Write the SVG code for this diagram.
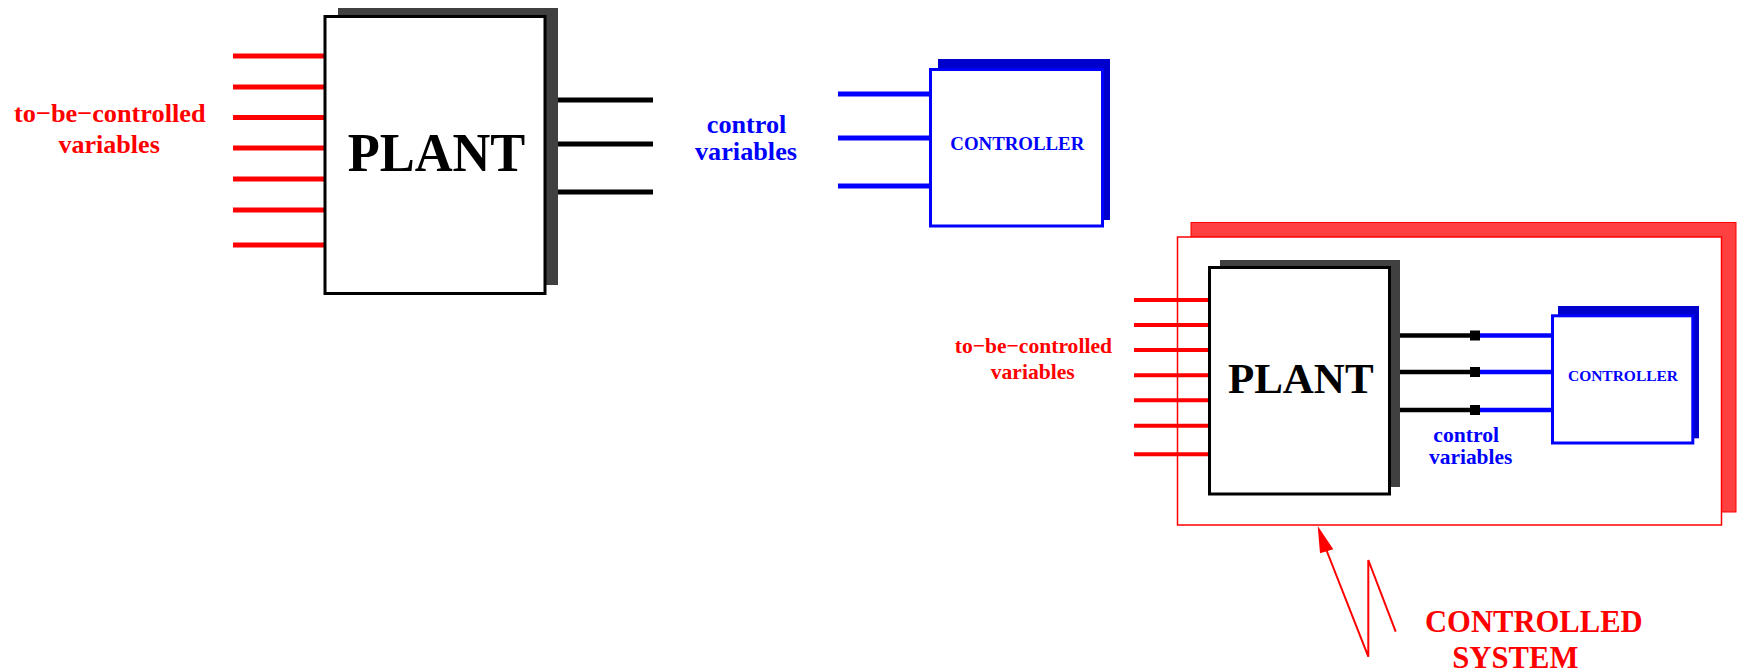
<svg xmlns="http://www.w3.org/2000/svg" width="1740" height="672" viewBox="0 0 1740 672">
<style>
.t{font-family:"Liberation Serif","Times New Roman",serif;font-weight:bold}
.red{fill:#ff0000}
.blue{fill:#0000ff}
.blk{fill:#000000}
.box{fill:#ffffff;stroke:#000000;stroke-width:3}
.cbox{fill:#ffffff;stroke:#0000ff;stroke-width:3}
.psh{fill:#404040}
.csh{fill:#0000cc}
.rl{stroke:#ff0000;fill:none}
.bl{stroke:#000000;fill:none}
.ul{stroke:#0000ff;fill:none}
</style>
<rect width="1740" height="672" fill="#ffffff"/>

<g id="controlled-system-frame">
<rect x="1191" y="222.5" width="545" height="289.5" fill="#ff4040" stroke="#ff0000" stroke-width="1"/>
<rect x="1177.5" y="237" width="544" height="288" fill="#ffffff" stroke="#ff0000" stroke-width="1.5"/>
</g>

<g id="connectors">
<g class="rl" stroke-width="5">
<line x1="233" y1="56" x2="325" y2="56"/>
<line x1="233" y1="87" x2="325" y2="87"/>
<line x1="233" y1="117.5" x2="325" y2="117.5"/>
<line x1="233" y1="148" x2="325" y2="148"/>
<line x1="233" y1="179" x2="325" y2="179"/>
<line x1="233" y1="210" x2="325" y2="210"/>
<line x1="233" y1="245" x2="325" y2="245"/>
</g>
<g class="bl" stroke-width="5">
<line x1="556" y1="100" x2="653" y2="100"/>
<line x1="556" y1="144" x2="653" y2="144"/>
<line x1="556" y1="192" x2="653" y2="192"/>
</g>
<g class="ul" stroke-width="5">
<line x1="838" y1="94" x2="931" y2="94"/>
<line x1="838" y1="138" x2="931" y2="138"/>
<line x1="838" y1="186" x2="931" y2="186"/>
</g>
<g class="rl" stroke-width="4">
<line x1="1134" y1="300" x2="1209" y2="300"/>
<line x1="1134" y1="325" x2="1209" y2="325"/>
<line x1="1134" y1="350" x2="1209" y2="350"/>
<line x1="1134" y1="375.3" x2="1209" y2="375.3"/>
<line x1="1134" y1="400.3" x2="1209" y2="400.3"/>
<line x1="1134" y1="425.7" x2="1209" y2="425.7"/>
<line x1="1134" y1="454.3" x2="1209" y2="454.3"/>
</g>
<g class="bl" stroke-width="4.5">
<line x1="1399" y1="335.5" x2="1475" y2="335.5"/>
<line x1="1399" y1="372" x2="1475" y2="372"/>
<line x1="1399" y1="410" x2="1475" y2="410"/>
</g>
<g class="ul" stroke-width="4.5">
<line x1="1480" y1="335.5" x2="1553" y2="335.5"/>
<line x1="1480" y1="372" x2="1553" y2="372"/>
<line x1="1480" y1="410" x2="1553" y2="410"/>
</g>
<g class="blk">
<rect x="1470" y="330.5" width="10" height="10"/>
<rect x="1470" y="367" width="10" height="10"/>
<rect x="1470" y="405" width="10" height="10"/>
</g>
<g id="system-pointer">
<polyline points="1395.7,631.7 1368.3,560 1368.3,656.7 1326,549" fill="none" stroke="#ff0000" stroke-width="2"/>
<polygon points="1317.7,526 1320,553.3 1333.3,549.3" fill="#ff0000"/>
</g>
</g>

<g id="plant1">
<rect class="psh" x="338" y="8" width="220" height="277"/>
<rect class="box" x="325" y="16.5" width="220" height="277"/>
<text class="t blk" x="347.7" y="171" font-size="54" textLength="177.6" lengthAdjust="spacingAndGlyphs">PLANT</text>
</g>

<g id="controller1">
<rect class="csh" x="938" y="59" width="172" height="161"/>
<rect class="cbox" x="930.5" y="69.5" width="172" height="156.5"/>
<text class="t blue" x="950.3" y="150" font-size="19" textLength="134" lengthAdjust="spacingAndGlyphs">CONTROLLER</text>
</g>

<g id="labels1">
<text class="t red" x="14" y="122" font-size="26" textLength="191.6" lengthAdjust="spacingAndGlyphs">to−be−controlled</text>
<text class="t red" x="58.4" y="153" font-size="26" textLength="101.4" lengthAdjust="spacingAndGlyphs">variables</text>
<text class="t blue" x="706.8" y="132.7" font-size="26" textLength="79.6" lengthAdjust="spacingAndGlyphs">control</text>
<text class="t blue" x="695" y="160" font-size="26" textLength="102" lengthAdjust="spacingAndGlyphs">variables</text>
</g>

<g id="plant2">
<rect class="psh" x="1220" y="260" width="180" height="227"/>
<rect class="box" x="1209.5" y="267.5" width="180" height="226.5"/>
<text class="t blk" x="1227.9" y="392.7" font-size="43" textLength="145.7" lengthAdjust="spacingAndGlyphs">PLANT</text>
</g>

<g id="controller2">
<rect class="csh" x="1558" y="306" width="141" height="132.3"/>
<rect class="cbox" x="1552.5" y="315.8" width="140.3" height="127.2"/>
<text class="t blue" x="1568" y="381" font-size="15.5" textLength="110" lengthAdjust="spacingAndGlyphs">CONTROLLER</text>
</g>

<g id="labels2">
<text class="t red" x="954.7" y="353.3" font-size="21.5" textLength="157.3" lengthAdjust="spacingAndGlyphs">to−be−controlled</text>
<text class="t red" x="990.7" y="378.5" font-size="21.5" textLength="84" lengthAdjust="spacingAndGlyphs">variables</text>
<text class="t blue" x="1433.3" y="441.7" font-size="21.5" textLength="65.7" lengthAdjust="spacingAndGlyphs">control</text>
<text class="t blue" x="1429" y="464" font-size="21.5" textLength="83.3" lengthAdjust="spacingAndGlyphs">variables</text>
</g>

<g id="controlled-system-label">
<text class="t red" x="1425" y="632.3" font-size="31" textLength="217.7" lengthAdjust="spacingAndGlyphs">CONTROLLED</text>
<text class="t red" x="1452.3" y="668.3" font-size="31" textLength="126" lengthAdjust="spacingAndGlyphs">SYSTEM</text>
</g>
</svg>
